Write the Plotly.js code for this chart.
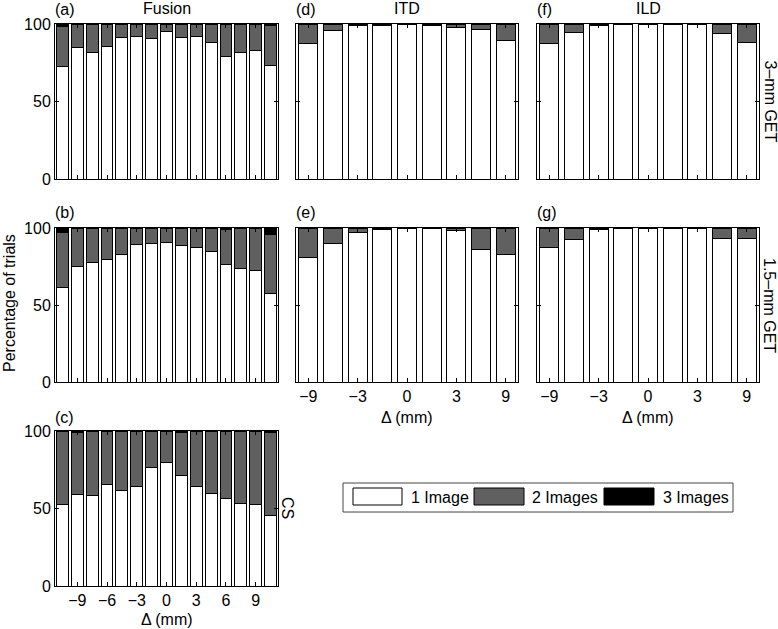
<!DOCTYPE html>
<html>
<head>
<meta charset="utf-8">
<script src="https://cdn.plot.ly/plotly-3.0.1.min.js"></script>
<style>html,body{margin:0;padding:0;background:#fff;}#chart{width:778px;height:629px;}</style>
</head>
<body>
<div id="chart"></div>
<script>
// ---- Data ----
var deltaFusion = [-10.5, -9, -7.5, -6, -4.5, -3, -1.5, 0, 1.5, 3, 4.5, 6, 7.5, 9, 10.5];
var fusionTicks = [-9, -6, -3, 0, 3, 6, 9];
var deltaCue = ['-9', '-6', '-3', '-1.5', '0', '1.5', '3', '6', '9'];
var cueTickIdx = [0, 2, 4, 6, 8];
var cueTickText = ['\u22129', '\u22123', '0', '3', '9'];

// (a) Fusion, 3-mm GET
var fus3_one   = [72.4, 84.9, 81.9, 85.6, 91.2, 92.0, 90.5, 95.3, 91.2, 92.0, 88.1, 79.3, 81.9, 82.8, 73.1];
var fus3_two   = [26.3, 15.1, 18.1, 14.4, 8.8, 8.0, 8.9, 4.7, 8.8, 8.0, 11.9, 20.7, 18.1, 17.2, 26.0];
var fus3_three = [1.3, 0, 0, 0, 0, 0, 0.6, 0, 0, 0, 0, 0, 0, 0, 0.9];
// (b) Fusion, 1.5-mm GET
var fus15_one   = [61.4, 74.8, 77.8, 79.3, 82.5, 89.0, 89.9, 90.9, 88.8, 87.1, 84.9, 76.1, 73.7, 72.4, 57.3];
var fus15_two   = [36.0, 25.2, 22.2, 20.7, 17.5, 11.0, 10.1, 9.1, 11.2, 12.9, 15.1, 23.0, 25.8, 27.2, 38.4];
var fus15_three = [2.6, 0, 0, 0, 0, 0, 0, 0, 0, 0, 0, 0.9, 0.5, 0.4, 4.3];
// (c) Fusion, CS
var fusCS_one   = [52.4, 59.1, 58.2, 65.3, 61.6, 64.2, 76.3, 79.5, 71.6, 64.4, 59.7, 56.5, 53.4, 52.6, 45.3];
var fusCS_two   = [47.6, 40.0, 41.8, 34.7, 38.4, 35.8, 23.7, 20.5, 27.4, 35.6, 40.3, 43.5, 46.6, 47.4, 53.7];
var fusCS_three = [0, 0.9, 0, 0, 0, 0, 0, 0, 1.0, 0, 0, 0, 0, 0, 1.0];
// (d) ITD, 3-mm GET
var itd3_one  = [87.5, 96.1, 99.3, 99.3, 100, 99.3, 97.6, 96.6, 89.4];
var itd3_two  = [12.5, 3.9, 0.7, 0.7, 0, 0.7, 2.4, 3.4, 10.6];
// (e) ITD, 1.5-mm GET
var itd15_one = [81.0, 89.9, 96.8, 98.9, 100, 100, 98.1, 85.8, 82.5];
var itd15_two = [19.0, 10.1, 3.2, 1.1, 0, 0, 1.9, 14.2, 17.5];
// (f) ILD, 3-mm GET
var ild3_one  = [87.5, 94.6, 99.3, 100, 100, 100, 99.5, 93.8, 88.1];
var ild3_two  = [12.5, 5.4, 0.7, 0, 0, 0, 0.5, 6.2, 11.9];
// (g) ILD, 1.5-mm GET
var ild15_one = [87.3, 92.7, 98.9, 100, 100, 100, 100, 93.5, 93.5];
var ild15_two = [12.7, 7.3, 1.1, 0, 0, 0, 0, 6.5, 6.5];

var seriesNames = ['1 Image', '2 Images', '3 Images'];
var seriesColors = ['#ffffff', '#606060', '#000000'];

// ---- Layout helpers ----
var W = 778, H = 629;
function px(x) { return x / W; }
function py(y) { return 1 - y / H; }
var FONT = 'Liberation Sans, Arial, sans-serif';

var traces = [];
function addPanel(axNum, xs, seriesList, width) {
  var xa = axNum === 1 ? 'x' : 'x' + axNum;
  var ya = axNum === 1 ? 'y' : 'y' + axNum;
  seriesList.forEach(function (vals, k) {
    traces.push({
      type: 'bar', x: xs, y: vals, xaxis: xa, yaxis: ya,
      name: seriesNames[k], showlegend: false, width: width,
      marker: { color: seriesColors[k], line: { color: '#000', width: 1 } },
      hoverinfo: 'x+y+name'
    });
  });
}
var cueX = deltaCue.map(function (d, i) { return i; });

addPanel(1, deltaFusion, [fus3_one, fus3_two, fus3_three], 1.2);
addPanel(2, deltaFusion, [fus15_one, fus15_two, fus15_three], 1.2);
addPanel(3, deltaFusion, [fusCS_one, fusCS_two, fusCS_three], 1.2);
addPanel(4, cueX, [itd3_one, itd3_two], 0.78);
addPanel(5, cueX, [itd15_one, itd15_two], 0.78);
addPanel(6, cueX, [ild3_one, ild3_two], 0.78);
addPanel(7, cueX, [ild15_one, ild15_two], 0.78);

var cols = [[55, 278], [296, 518], [537, 759]];
var rows = [[24, 179], [228, 382], [431, 586]];

function baseAxis() {
  return {
    showline: true, linecolor: '#000', linewidth: 1, mirror: 'ticks',
    ticks: 'inside', ticklen: 4, tickcolor: '#000', tickwidth: 1,
    showgrid: false, zeroline: false, fixedrange: true,
    tickfont: { family: FONT, size: 16, color: '#000' }
  };
}
function xAxisFusion(row, labels) {
  var a = baseAxis();
  a.domain = [px(cols[0][0]), px(cols[0][1])];
  a.range = [-11.25, 11.25];
  a.tickmode = 'array'; a.tickvals = fusionTicks;
  a.showticklabels = labels;
  return a;
}
function xAxisCue(col, labels) {
  var a = baseAxis();
  a.domain = [px(cols[col][0]), px(cols[col][1])];
  a.range = [-0.5, 8.5];
  a.tickmode = 'array'; a.tickvals = cueTickIdx; a.ticktext = cueTickText;
  a.showticklabels = labels;
  return a;
}
function yAxis(row, xa, labels) {
  var a = baseAxis();
  a.domain = [py(rows[row][1]), py(rows[row][0])];
  a.range = [0, 100];
  a.tickmode = 'array'; a.tickvals = [0, 50, 100];
  a.showticklabels = labels;
  a.anchor = xa;
  return a;
}

var layout = {
  width: W, height: H,
  margin: { l: 0, r: 0, t: 0, b: 0 },
  paper_bgcolor: '#fff', plot_bgcolor: '#fff',
  barmode: 'stack', showlegend: false,
  font: { family: FONT, size: 16, color: '#000' },
  xaxis: Object.assign(xAxisFusion(0, false), { anchor: 'y' }),
  yaxis: yAxis(0, 'x', true),
  xaxis2: Object.assign(xAxisFusion(1, false), { anchor: 'y2' }),
  yaxis2: yAxis(1, 'x2', true),
  xaxis3: Object.assign(xAxisFusion(2, true), { anchor: 'y3' }),
  yaxis3: yAxis(2, 'x3', true),
  xaxis4: Object.assign(xAxisCue(1, false), { anchor: 'y4' }),
  yaxis4: yAxis(0, 'x4', false),
  xaxis5: Object.assign(xAxisCue(1, true), { anchor: 'y5' }),
  yaxis5: yAxis(1, 'x5', false),
  xaxis6: Object.assign(xAxisCue(2, false), { anchor: 'y6' }),
  yaxis6: yAxis(0, 'x6', false),
  xaxis7: Object.assign(xAxisCue(2, true), { anchor: 'y7' }),
  yaxis7: yAxis(1, 'x7', false),
  annotations: [],
  shapes: []
};

function ann(text, x, y, xanchor, angle) {
  layout.annotations.push({
    text: text, xref: 'paper', yref: 'paper', x: px(x), y: py(y),
    xanchor: xanchor || 'center', yanchor: 'middle', showarrow: false,
    textangle: angle || 0, font: { family: FONT, size: 16, color: '#000' }
  });
}
ann('Fusion', 166.5, 8);
ann('ITD', 407, 8);
ann('ILD', 648, 8);
ann('(a)', 53, 9, 'left');
ann('(b)', 53, 213, 'left');
ann('(c)', 53, 417, 'left');
ann('(d)', 294, 9, 'left');
ann('(e)', 294, 213, 'left');
ann('(f)', 535, 9, 'left');
ann('(g)', 535, 213, 'left');
ann('3\u2013mm GET', 770, 101.5, 'center', 90);
ann('1.5\u2013mm GET', 770, 305, 'center', 90);
ann('CS', 288, 508, 'center', 90);
ann('Percentage of trials', 9, 303, 'center', -90);
ann('\u0394 (mm)', 166.5, 619);
ann('\u0394 (mm)', 407, 417);
ann('\u0394 (mm)', 648, 417);

// Legend box
layout.shapes.push({ type: 'rect', xref: 'paper', yref: 'paper', x0: px(343), x1: px(733), y0: py(512), y1: py(483), line: { color: '#444', width: 1 }, fillcolor: '#fff' });
var sw = [[353, 402], [474, 524], [604, 654]];
var tx = [409, 530, 661];
seriesNames.forEach(function (n, k) {
  layout.shapes.push({ type: 'rect', xref: 'paper', yref: 'paper', x0: px(sw[k][0]), x1: px(sw[k][1]), y0: py(505), y1: py(488), line: { color: '#000', width: 1 }, fillcolor: seriesColors[k] });
  ann(n, tx[k], 497, 'left');
});

Plotly.newPlot('chart', traces, layout, { displayModeBar: false, staticPlot: true });
</script>
</body>
</html>
